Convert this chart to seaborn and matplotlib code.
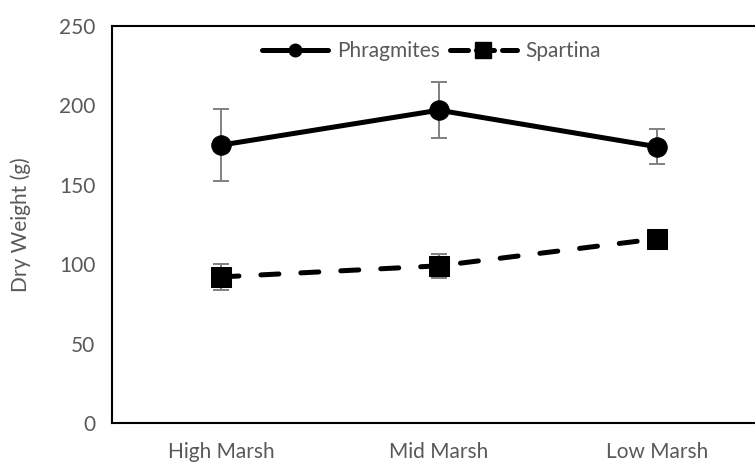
import matplotlib
matplotlib.use("Agg")
import matplotlib.pyplot as plt
import pandas as pd
import seaborn as sns
from matplotlib.lines import Line2D

# Mean dry weight per marsh zone, with standard error
zones = ["High Marsh", "Mid Marsh", "Low Marsh"]
phragmites_mean = [175, 197, 174]
phragmites_err = [22.5, 17.5, 11]
spartina_mean = [92, 99, 116]
spartina_err = [8, 7.5, 3]

sns.set_theme(style="white")
plt.rcParams["font.family"] = ["Lato", "DejaVu Sans"]

grey = "#595959"
df_p = pd.DataFrame({"zone": zones, "weight": phragmites_mean})
df_s = pd.DataFrame({"zone": zones, "weight": spartina_mean})

fig = plt.figure(figsize=(7.55, 4.69), dpi=100)
ax = fig.add_axes([0.1483, 0.098, 0.866, 0.8465])

# error bars sit beneath the lines and markers
ax.errorbar(zones, phragmites_mean, yerr=phragmites_err, fmt="none",
            ecolor="#808080", elinewidth=1.4, capsize=6, capthick=1.4, zorder=2)
ax.errorbar(zones, spartina_mean, yerr=spartina_err, fmt="none",
            ecolor="#808080", elinewidth=1.4, capsize=6, capthick=1.4, zorder=2)

sns.lineplot(data=df_p, x="zone", y="weight", ax=ax, color="black",
             linewidth=3.6, marker="o", markersize=14, markeredgecolor="black",
             sort=False, zorder=3, label="Phragmites", legend=False)
sns.lineplot(data=df_s, x="zone", y="weight", ax=ax, color="black",
             linewidth=3.6, marker="s", markersize=14, markeredgecolor="black",
             sort=False, zorder=3, label="Spartina", legend=False)

line_p, line_s = ax.lines[-2], ax.lines[-1]
line_p.set_solid_capstyle("round")
line_s.set_dashes([3.6, 4.4])
line_s.set_dash_capstyle("round")

ax.set_xlim(-0.5, 2.5)
ax.set_ylim(0, 250)
ax.set_yticks([0, 50, 100, 150, 200, 250])
ax.set_xlabel("")
ax.set_ylabel("Dry Weight (g)", color=grey, fontsize=15, labelpad=20)
ax.tick_params(axis="both", length=0, labelsize=15, labelcolor=grey)
ax.tick_params(axis="x", pad=14)
ax.tick_params(axis="y", pad=12)

for s in ax.spines.values():
    s.set_visible(True)
    s.set_color("black")
    s.set_linewidth(1.5)

handles = [
    Line2D([], [], color="black", linewidth=3.6, marker="o", markersize=9,
           solid_capstyle="round"),
    Line2D([], [], color="black", linewidth=3.6, marker="s", markersize=11,
           dashes=[3.6, 1.6], dash_capstyle="round"),
]
leg = ax.legend(handles, ["Phragmites", "Spartina"], ncol=2, frameon=False,
                loc="upper center", bbox_to_anchor=(0.488, 1.01),
                fontsize=15, labelcolor=grey, handlelength=3.2,
                handletextpad=0.4, columnspacing=0.5)

fig.savefig("out.png", dpi=100)
